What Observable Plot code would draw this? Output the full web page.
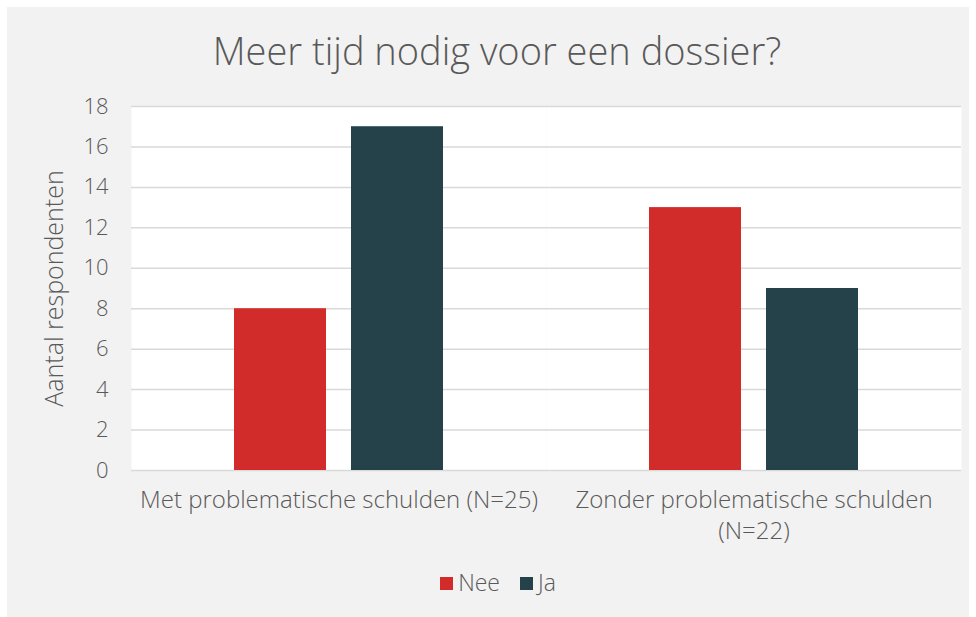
<!DOCTYPE html>
<html>
<head>
<meta charset="utf-8">
<script src="https://cdn.jsdelivr.net/npm/d3@7"></script>
<script src="https://cdn.jsdelivr.net/npm/@observablehq/plot@0.6"></script>
<style>
  html, body { margin: 0; padding: 0; background: #ffffff; }
  body { width: 976px; height: 617px; position: relative; overflow: hidden; font-family: "Open Sans", Lato, sans-serif; color: #595959; }
  #bg { position: absolute; left: 7px; top: 7px; width: 962px; height: 610px; background: #f2f2f2; }
  #chart { position: absolute; left: 0; top: 0; }
  #title { position: absolute; left: 0; width: 994px; top: 24px; text-align: center; font-size: 38px; font-weight: 300; color: #595959; white-space: nowrap; }
  #legend { position: absolute; left: 0; width: 996px; top: 566px; text-align: center; font-size: 23px; font-weight: 300; color: #595959; white-space: nowrap; }
  #legend .sw { display: inline-block; width: 13px; height: 13px; margin-right: 5px; vertical-align: 1px; }
  #legend .item { margin: 0 10px; }
</style>
</head>
<body>
<div id="bg"></div>
<div id="chart"></div>
<div id="title">Meer tijd nodig voor een dossier?</div>
<div id="legend"></div>
<script>
const categories = ["Met problematische schulden (N=25)", "Zonder problematische schulden (N=22)"];
const categoryLabels = ["Met problematische schulden (N=25)", "Zonder problematische schulden\n(N=22)"];
const series = ["Nee", "Ja"];
const neeValues = [8, 13];
const jaValues = [17, 9];
const yTicks = [0, 2, 4, 6, 8, 10, 12, 14, 16, 18];
const colors = ["#d12b2a", "#25424a"];

const data = [];
categories.forEach((c, i) => {
  data.push({category: c, series: "Nee", value: neeValues[i]});
  data.push({category: c, series: "Ja", value: jaValues[i]});
});

const chart = Plot.plot({
  width: 976,
  height: 617,
  marginLeft: 131,
  marginRight: 15,
  marginTop: 106,
  marginBottom: 147,
  style: {background: "transparent", fontFamily: "'Open Sans', Lato, sans-serif", fontSize: "22px", color: "#595959", fontWeight: 300},
  fx: {domain: categories, padding: 0, label: null},
  x: {domain: series, paddingInner: 0.212, paddingOuter: 0.8645, axis: null},
  y: {domain: [0, 18], label: null},
  color: {domain: series, range: colors},
  marks: [
    Plot.frame({fill: "white", stroke: null}),
    Plot.ruleY(yTicks, {stroke: "#d9d9d9", strokeWidth: 1.5}),
    Plot.barY(data, {fx: "category", x: "series", y: "value", fill: "series"}),
    Plot.axisY({ticks: yTicks, tickSize: 0, tickPadding: 23, fontSize: 22, label: null}),
    Plot.axisY({ticks: [], tickSize: 0, fontSize: 25, label: "Aantal respondenten", labelAnchor: "center", labelArrow: "none", labelOffset: 86}),
    Plot.axisFx({anchor: "bottom", tickSize: 0, tickPadding: 15, fontSize: 24, label: null, lineHeight: 1.3, tickFormat: d => categoryLabels[categories.indexOf(d)]})
  ]
});
document.getElementById("chart").appendChild(chart);

const legend = document.getElementById("legend");
series.forEach((s, i) => {
  const item = document.createElement("span");
  item.className = "item";
  const sw = document.createElement("span");
  sw.className = "sw";
  sw.style.background = colors[i];
  item.appendChild(sw);
  item.appendChild(document.createTextNode(s));
  legend.appendChild(item);
});
</script>
</body>
</html>
